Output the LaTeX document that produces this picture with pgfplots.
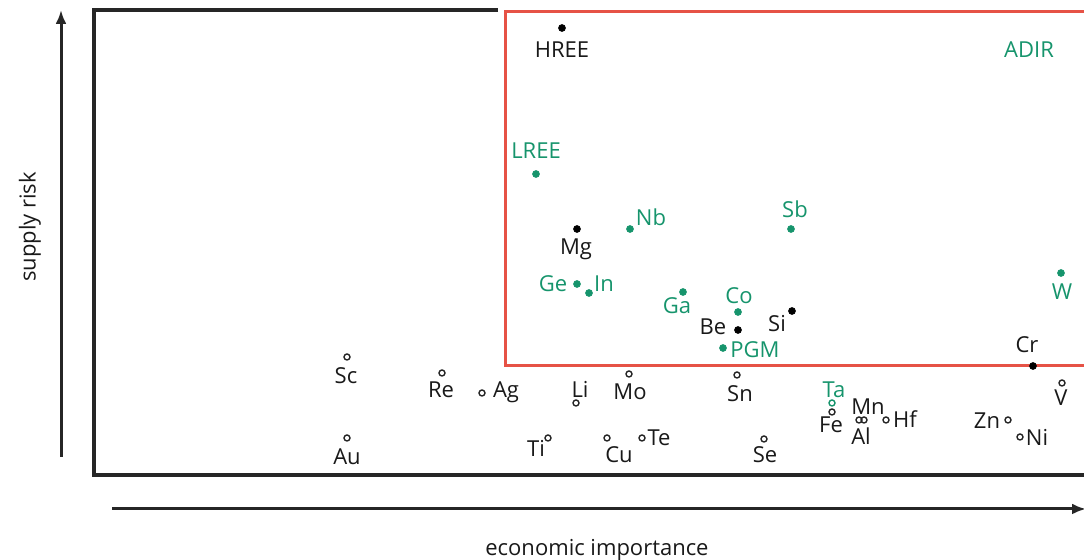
\documentclass[border=0pt]{standalone}
\usepackage{pgfplots}
\pgfplotsset{compat=1.18}
\usepackage{fontspec}
\setmainfont{Open Sans}
\usetikzlibrary{arrows.meta}
\definecolor{cgreen}{RGB}{22,148,108}
\definecolor{cred}{RGB}{230,82,70}
\definecolor{ctext}{RGB}{25,25,25}
\tikzset{
  lab/.style={font=\fontsize{11}{13}\selectfont, text height=0.72em, text depth=0pt, inner sep=0pt, text=ctext},
  glab/.style={lab, text=cgreen},
}
\begin{document}
\begin{tikzpicture}
\path[use as bounding box] (0,0) rectangle (542pt,280pt);
\begin{axis}[
  at={(0,0)}, anchor=south west,
  x=0.5pt, y=0.5pt,
  xmin=0, xmax=1084, ymin=0, ymax=560,
  hide axis, clip=false,
]
% frame
\draw[line width=1.7pt, black!85] (498,550) -- (94,550) -- (94,85) -- (1100,85);
\draw[line width=1.5pt, cred] (1100,548) -- (505,548) -- (505,194) -- (1100,194);
% axis arrows
\draw[line width=1.5pt, black!85, -{Latex[length=7pt,width=5.5pt]}] (61,103) -- (61,550);
\draw[line width=1.5pt, black!85, -{Latex[length=7pt,width=5.5pt]}] (112,51) -- (1086,51);
\node[rotate=90, font=\fontsize{11}{13}\selectfont, text=ctext] at (30,333) {supply risk};
\node[font=\fontsize{11}{13}\selectfont, text=ctext] at (597,10) {economic importance};

% black filled: HREE, Mg, Be, Si, Cr
\addplot[only marks, mark=*, mark size=1.7pt, black] coordinates {
  (562,532) (577,331) (738,230) (792,249) (1033,194)
};
% green filled: LREE, Nb, Sb, Ge, In, Ga, Co, PGM, W
\addplot[only marks, mark=*, mark size=1.7pt, cgreen] coordinates {
  (536,386) (630,331) (791,331) (577,276) (589,267) (683,268) (738,248) (723,212) (1061,287)
};
% black open: Sc, Au, Re, Ag, Li, Mo, Sn, Ti, Cu, Te, Se, Fe, Mn, Al, Hf, Zn, Ni, V
\addplot[only marks, mark=o, mark size=1.5pt, line width=0.7pt, black!85, mark options={fill=white}] coordinates {
  (347,203) (347,122) (442,187) (482,167) (576,157) (629,186) (737,185)
  (548,122) (607,122) (642,122) (764,121) (832,148) (859,140) (864,140)
  (886,140) (1008,140) (1020,123) (1062,177)
};
% green open: Ta
\addplot[only marks, mark=o, mark size=1.5pt, line width=0.7pt, cgreen, mark options={fill=white}] coordinates {
  (832,157)
};

% labels
\node[lab] at (562,510) {HREE};
\node[lab] at (576,313) {Mg};
\node[lab] at (713,233) {Be};
\node[lab] at (777,236) {Si};
\node[lab] at (1027,215) {Cr};
\node[glab] at (536,409) {LREE};
\node[glab] at (651,342) {Nb};
\node[glab] at (795,350) {Sb};
\node[glab] at (553,276) {Ge};
\node[glab] at (604,276) {In};
\node[glab] at (677,254) {Ga};
\node[glab] at (739,264) {Co};
\node[glab] at (755,210) {PGM};
\node[glab] at (1062,268) {W};
\node[glab] at (1029,510) {ADIR};
\node[lab] at (346,184) {Sc};
\node[lab] at (347,103) {Au};
\node[lab] at (441,170) {Re};
\node[lab] at (506,170) {Ag};
\node[lab] at (580,170) {Li};
\node[lab] at (630,168) {Mo};
\node[lab] at (740,166) {Sn};
\node[lab] at (536,111) {Ti};
\node[lab] at (619,105) {Cu};
\node[lab] at (659,122) {Te};
\node[lab] at (765,105) {Se};
\node[glab] at (834,170) {Ta};
\node[lab] at (831,135) {Fe};
\node[lab] at (868,153) {Mn};
\node[lab] at (861,123) {Al};
\node[lab] at (905,140) {Hf};
\node[lab] at (987,139) {Zn};
\node[lab] at (1037,122) {Ni};
\node[lab] at (1061,162) {V};
\end{axis}
\end{tikzpicture}
\end{document}
